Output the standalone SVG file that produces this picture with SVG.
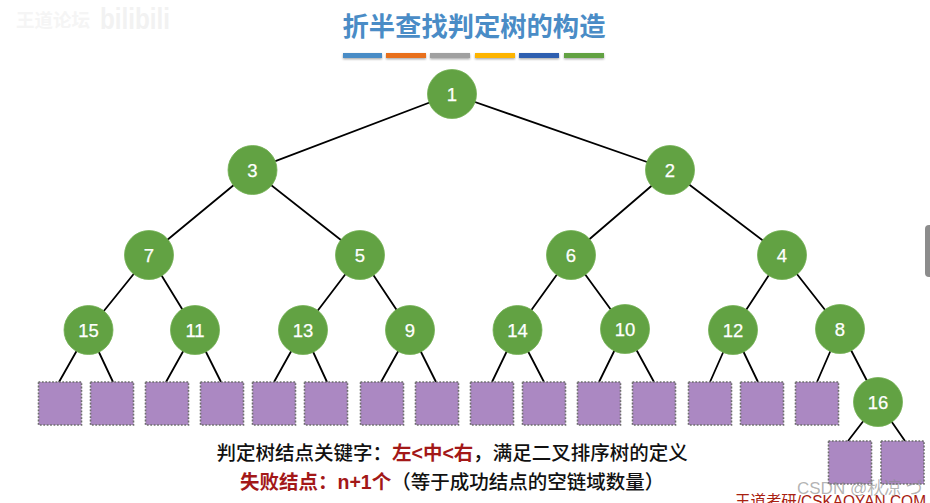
<svg xmlns="http://www.w3.org/2000/svg" width="930" height="503" viewBox="0 0 930 503">
<defs>
<filter id="sh" x="-10%" y="-80%" width="120%" height="300%"><feDropShadow dx="0" dy="1.2" stdDeviation="1" flood-color="#000" flood-opacity="0.35"/></filter>
</defs>
<style>
text{font-family:"Liberation Sans","Noto Sans CJK SC",sans-serif}
.edge{stroke:#000;stroke-width:1.8;fill:none}
.n circle{fill:#62a243;stroke:#72b053;stroke-width:0.8}
.n text{fill:#fff;font-size:18.500px;font-weight:400;text-anchor:middle;stroke:#fff;stroke-width:0.25}
.leaf rect{fill:#ab88c2;stroke:#6e6e6e;stroke-width:1.6;stroke-dasharray:1.8 1.6}
.cap{font-size:19.500px;font-weight:500;fill:#111}
.red{fill:#a31818;font-weight:700}
.bar{filter:url(#sh)}
</style>
<rect width="930" height="503" fill="#fff"/>
<rect x="925" y="225" width="8" height="52" rx="4" fill="#8c8c8c"/>
<g id="watermark">
<text x="16" y="27" font-size="18.500" font-weight="700" fill="#f5f5f5">王道论坛</text>
<text x="100" y="29" font-size="29" font-weight="700" fill="#f2f2f2" textLength="70" lengthAdjust="spacingAndGlyphs">bilibili</text>
</g>
<text id="title" x="342.500" y="36" font-size="26.300" font-weight="700" fill="#4a8cc6">折半查找判定树的构造</text>
<g id="bars">
<rect class="bar" x="343" y="53" width="39" height="5" fill="#4a8cc6"/>
<rect class="bar" x="386" y="53" width="40" height="5" fill="#e8701f"/>
<rect class="bar" x="430" y="53" width="40" height="5" fill="#a0a0a0"/>
<rect class="bar" x="475" y="53" width="40" height="5" fill="#fdb400"/>
<rect class="bar" x="519" y="53" width="40" height="5" fill="#2f5fb0"/>
<rect class="bar" x="564" y="53" width="40" height="5" fill="#62a243"/>
</g>
<g id="connectors">
<path class="edge" d="M452 94L252 170M452 94L670 170M252 170L149 255M252 170L360 255M670 170L571 255M670 170L782 255M149 255L88.500 330M149 255L195 330M360 255L303 330M360 255L410 330M571 255L517 330M571 255L625 329M782 255L733 330M782 255L840 329M840 329L817 382M840 329L878 402"/>
<path class="edge" d="M88.500 330L59 382M88.500 330L113 382M195 330L166 382M195 330L221 382M303 330L274 382M303 330L327 382M410 330L381 382M410 330L436 382M517 330L492 382M517 330L544 382M625 329L599 382M625 329L654 382M733 330L710 382M733 330L758 382M878 402L848 441M878 402L905 441"/>
</g>
<g id="n1" class="n"><circle cx="452" cy="94" r="24.500"/><text x="452" y="100.500">1</text></g>
<g id="n3" class="n"><circle cx="252.500" cy="170" r="24.500"/><text x="252.500" y="176.500">3</text></g>
<g id="n2" class="n"><circle cx="670" cy="170" r="24.500"/><text x="670" y="176.500">2</text></g>
<g id="n7" class="n"><circle cx="149" cy="255" r="24.500"/><text x="149" y="261.500">7</text></g>
<g id="n5" class="n"><circle cx="360" cy="255" r="24.500"/><text x="360" y="261.500">5</text></g>
<g id="n6" class="n"><circle cx="571" cy="255" r="24.500"/><text x="571" y="261.500">6</text></g>
<g id="n4" class="n"><circle cx="782" cy="255" r="24.500"/><text x="782" y="261.500">4</text></g>
<g id="n15" class="n"><circle cx="88.500" cy="330" r="24.500"/><text x="88.500" y="336.500">15</text></g>
<g id="n11" class="n"><circle cx="195" cy="330" r="24.500"/><text x="195" y="336.500">11</text></g>
<g id="n13" class="n"><circle cx="303" cy="330" r="24.500"/><text x="303" y="336.500">13</text></g>
<g id="n9" class="n"><circle cx="410" cy="330" r="24.500"/><text x="410" y="336.500">9</text></g>
<g id="n14" class="n"><circle cx="517.500" cy="330" r="24.500"/><text x="517.500" y="336.500">14</text></g>
<g id="n10" class="n"><circle cx="625" cy="329" r="24.500"/><text x="625" y="335.500">10</text></g>
<g id="n12" class="n"><circle cx="733" cy="330" r="24.500"/><text x="733" y="336.500">12</text></g>
<g id="n8" class="n"><circle cx="840" cy="329" r="24.500"/><text x="840" y="335.500">8</text></g>
<g id="n16" class="n"><circle cx="878" cy="402" r="24.500"/><text x="878" y="408.500">16</text></g>
<g id="leaves" class="leaf">
<rect x="38.500" y="382" width="43" height="43"/>
<rect x="90.500" y="382" width="43" height="43"/>
<rect x="145.500" y="382" width="43" height="43"/>
<rect x="200.500" y="382" width="43" height="43"/>
<rect x="252.500" y="382" width="43" height="43"/>
<rect x="304.500" y="382" width="43" height="43"/>
<rect x="360.500" y="382" width="43" height="43"/>
<rect x="415.500" y="382" width="43" height="43"/>
<rect x="470.500" y="382" width="43" height="43"/>
<rect x="522.500" y="382" width="43" height="43"/>
<rect x="577.500" y="382" width="43" height="43"/>
<rect x="632.500" y="382" width="43" height="43"/>
<rect x="688.500" y="382" width="43" height="43"/>
<rect x="740.500" y="382" width="43" height="43"/>
<rect x="795.500" y="382" width="43" height="43"/>
<rect x="828.500" y="441" width="43" height="43"/>
<rect x="881" y="441" width="43" height="43"/>
</g>
<text class="cap" x="216.500" y="460">判定树结点关键字：<tspan class="red">左&lt;中&lt;右</tspan>，满足二叉排序树的定义</text>
<text class="cap" x="240" y="489"><tspan class="red">失败结点：n+1个</tspan>（等于成功结点的空链域数量）</text>
<text x="735" y="507" font-size="16" fill="#a82010" textLength="191" lengthAdjust="spacingAndGlyphs">王道考研/CSKAOYAN.COM</text>
<text x="797" y="494" font-size="17" fill="#8a8a8a" fill-opacity="0.65">CSDN @秋凉 づ</text>
</svg>
